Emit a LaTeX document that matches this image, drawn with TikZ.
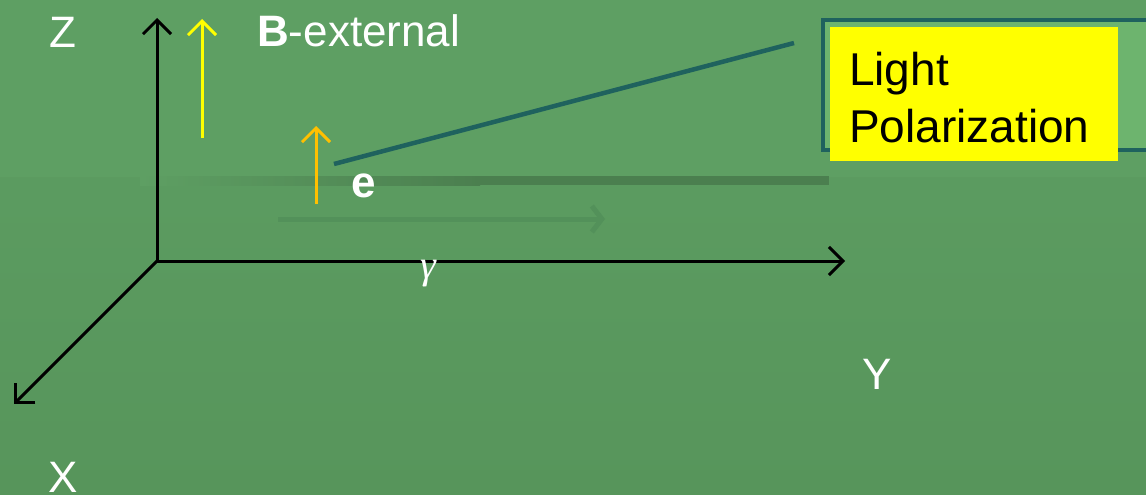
\documentclass[tikz,border=0pt]{standalone}
\usepackage{fontspec}
\setmainfont{Liberation Sans}
\newfontfamily\greekserif{Liberation Serif}
\usetikzlibrary{arrows.meta}
\definecolor{bgtop}{HTML}{5E9F63}
\definecolor{bgbot}{HTML}{57955B}
\definecolor{teal}{HTML}{1F625E}
\definecolor{boxfill}{HTML}{6DB46E}
\definecolor{band}{HTML}{4B7F4F}
\definecolor{faint}{HTML}{53915A}
\definecolor{eorange}{HTML}{FFC000}
\definecolor{pureyellow}{HTML}{FFFF00}
\tikzset{
  axis/.style={line width=3pt, black, -{Straight Barb[length=14pt,width=28pt,line width=3pt]}},
  uparrow/.style={line width=3pt, -{Straight Barb[length=14pt,width=28pt,line width=3pt]}},
  lbl/.style={text=white, font=\fontsize{44}{50}\selectfont, inner sep=0pt},
}
\begin{document}
\begin{tikzpicture}[x=1pt,y=-1pt]
\useasboundingbox (0,0) rectangle (1146,495);
\fill[top color=bgtop, bottom color=bgbot] (0,0) rectangle (1146,495);
\fill[bgtop] (0,0) rectangle (1146,177);
% dark band
\shade[left color=bgtop, right color=band] (140,176) rectangle (480,185);
\fill[band] (479,176) rectangle (829,185);
% faint arrow
\coordinate (f1) at (278,219);
\coordinate (f2) at (605,219);
\draw[faint, line width=5pt, -{Straight Barb[length=10pt,width=26pt,line width=5pt]}] (f1) -- (f2);
% axes
\coordinate (O) at (157,261);
\coordinate (Ze) at (157,18);
\coordinate (Ye) at (845,261);
\coordinate (Xe) at (14,404);
\draw[axis] (O) -- (Ze);
\draw[axis] (O) -- (Ye);
\draw[axis] (O) -- (Xe);
\node[lbl] (Z) at (63,32) {Z};
\node[lbl] (X) at (63,477) {X};
\node[lbl] (Y) at (877,374) {Y};
\node[text=white, font=\fontsize{40}{44}\selectfont\greekserif\itshape, inner sep=0pt] (g) at (428,274) {γ};
% B external
\coordinate (b1) at (202,138);
\coordinate (b2) at (202,19);
\draw[pureyellow, uparrow] (b1) -- (b2);
\node[lbl, anchor=west] (B) at (257,31) {\textbf{B}-external};
% e
\coordinate (e1) at (316,204);
\coordinate (e2) at (316,126);
\draw[eorange, uparrow] (e1) -- (e2);
\node[lbl] (e) at (364,186) {\textbf{e}};
% box
\draw[teal, line width=4pt, fill=boxfill] (823,20) rectangle (1160,150);
\node[fill=pureyellow, minimum width=288pt, minimum height=134pt, inner sep=0pt] (lp) at (974,94) {};
\node[anchor=west, text=black, align=left, font=\fontsize{46}{57}\selectfont, inner sep=0pt] (lpt) at (849,98) {Light\\Polarization};
% pointer line
\coordinate (p1) at (334,164);
\coordinate (p2) at (794,43);
\draw[teal, line width=4.5pt] (p1) -- (p2);
\end{tikzpicture}
\end{document}
